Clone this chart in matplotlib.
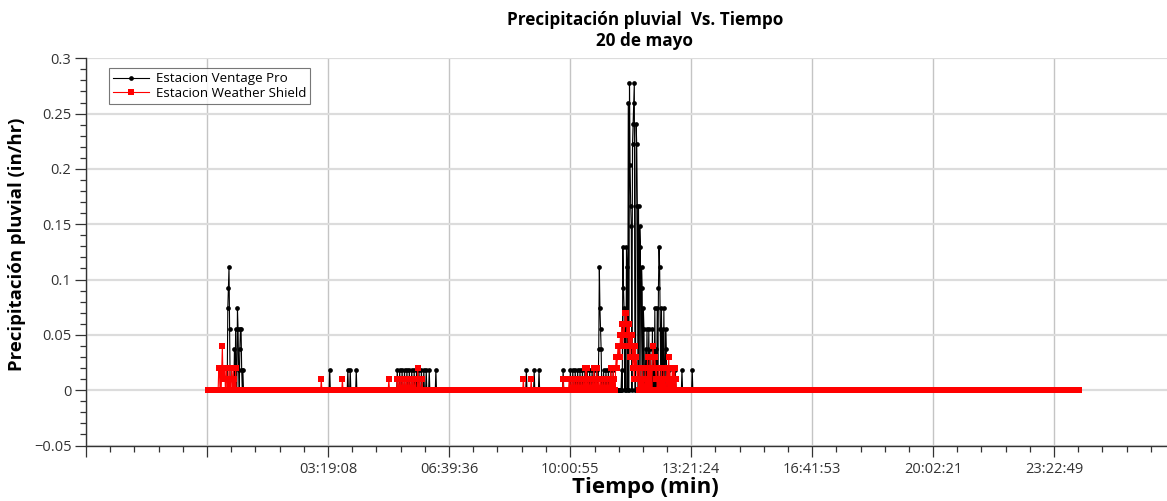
import numpy as np
import matplotlib
matplotlib.use("Agg")
import matplotlib.pyplot as plt
from matplotlib.ticker import FixedLocator, FixedFormatter, NullFormatter

# ---------------- data ----------------
title = "Precipitación pluvial  Vs. Tiempo\n20 de mayo"
xlabel = "Tiempo (min)"
ylabel = "Precipitación pluvial (in/hr)"
series_names = ["Estacion Ventage Pro", "Estacion Weather Shield"]

x_tick_labels = ["03:19:08", "06:39:36", "10:00:55", "13:21:24",
                 "16:41:53", "20:02:21", "23:22:49"]
y_ticks = [-0.05, 0, 0.05, 0.1, 0.15, 0.2, 0.25, 0.3]
y_tick_labels = ["\u22120.05", "0", "0.05", "0.1", "0.15", "0.2", "0.25", "0.3"]

# one reading per minute over the day; readings not listed are 0 in/hr
record_length_min = 1445

# Estacion Ventage Pro: minute of day, rain rate (in/hr)
vp_event_min = [33, 34, 35, 36, 44, 46, 49, 50, 51, 53, 54, 55, 56, 58,
                202, 232, 236, 246,
                314, 318, 322, 326, 330, 334, 338, 342, 346, 350, 354, 358, 362, 367, 378,
                528, 541, 549, 589,
                601, 605, 609, 613, 617, 621, 625, 629, 633, 637, 641, 645,
                648, 649, 650, 651, 652,
                656, 660, 664, 668, 672,
                686, 688, 689, 690, 692, 694, 695, 697, 699, 700, 701, 702,
                704, 705, 706, 707, 710, 711, 712, 714, 716, 717, 719, 720,
                722, 723, 726, 728, 731, 733, 737, 739, 741, 743, 745, 747,
                748, 749, 750, 752, 754, 756, 759, 760,
                764, 775, 786, 803]
vp_event_val = [0.0741, 0.0926, 0.1111, 0.0556, 0.037, 0.0556, 0.0741, 0.0556, 0.0185, 0.037, 0.0556, 0.0556, 0.0185, 0.0185,
                0.0185, 0.0185, 0.0185, 0.0185,
                0.0185, 0.0185, 0.0185, 0.0185, 0.0185, 0.0185, 0.0185, 0.0185, 0.0185, 0.0185, 0.0185, 0.0185, 0.0185, 0.0185, 0.0185,
                0.0185, 0.0185, 0.0185, 0.0185,
                0.0185, 0.0185, 0.0185, 0.0185, 0.0185, 0.0185, 0.0185, 0.0185, 0.0185, 0.0185, 0.0185, 0.0185,
                0.037, 0.1111, 0.0741, 0.0556, 0.037,
                0.0185, 0.0185, 0.0185, 0.0185, 0.0185,
                0.0185, 0.1296, 0.0926, 0.0741, 0.0556, 0.1296, 0.1111, 0.2593, 0.2778, 0.2037, 0.1667, 0.1481,
                0.2222, 0.2407, 0.2593, 0.2778, 0.2407, 0.2222, 0.1667, 0.1667, 0.1481, 0.1296, 0.1111, 0.0926,
                0.0741, 0.0556, 0.037, 0.0556, 0.0556, 0.037, 0.0556, 0.037, 0.0741, 0.037, 0.0741, 0.0926,
                0.1296, 0.1111, 0.0556, 0.0741, 0.0556, 0.0741, 0.0556, 0.037,
                0.0185, 0.0185, 0.0185, 0.0185]

# Estacion Weather Shield: minute of day, rain rate (in/hr)
ws_event_min = [18, 19, 21, 23, 24, 25, 26, 27, 28, 30, 31, 33, 35, 37, 39, 40, 42, 44, 46,
                188, 223, 300,
                314, 317, 320, 323, 326, 329, 332, 335, 338, 341, 344, 348, 351, 355,
                523, 536, 589,
                599, 602, 605, 608, 611, 614, 617, 620, 623, 626, 628, 631, 634, 637, 640,
                643, 645, 648, 651, 654, 657, 660, 663, 666, 668, 670, 672, 674, 676,
                677, 678, 679, 680, 681, 682, 683, 684, 685, 686, 687, 688, 689, 690,
                691, 692, 693, 694, 695, 696, 697, 698, 699, 700, 701, 702, 703, 704,
                705, 706, 707, 708, 709, 710, 711, 712, 713,
                716, 718, 720, 722, 725, 727, 729, 731, 733, 735,
                737, 738, 739, 740, 741, 742, 743, 744,
                746, 748, 750, 752, 754, 756, 758, 761, 762, 764, 766, 768, 770, 772, 774, 776]
ws_event_val = [0.02, 0.02, 0.02, 0.02, 0.04, 0.01, 0.02, 0.01, 0.02, 0.01, 0.02, 0.01, 0.02, 0.01, 0.02, 0.01, 0.02, 0.01, 0.02,
                0.01, 0.01, 0.01,
                0.01, 0.01, 0.01, 0.01, 0.01, 0.01, 0.01, 0.01, 0.01, 0.01, 0.01, 0.02, 0.01, 0.01,
                0.01, 0.01, 0.01,
                0.01, 0.01, 0.01, 0.01, 0.01, 0.01, 0.01, 0.01, 0.01, 0.02, 0.02, 0.01, 0.01, 0.01, 0.02,
                0.01, 0.02, 0.01, 0.01, 0.01, 0.01, 0.01, 0.01, 0.01, 0.02, 0.01, 0.02, 0.01, 0.02,
                0.03, 0.02, 0.03, 0.04, 0.03, 0.04, 0.03, 0.05, 0.04, 0.06, 0.05, 0.04, 0.06, 0.05,
                0.06, 0.07, 0.06, 0.07, 0.05, 0.06, 0.04, 0.06, 0.05, 0.03, 0.05, 0.04, 0.05, 0.02,
                0.04, 0.03, 0.01, 0.04, 0.02, 0.03, 0.02, 0.01, 0.02,
                0.02, 0.01, 0.02, 0.01, 0.02, 0.01, 0.03, 0.02, 0.03, 0.02,
                0.03, 0.04, 0.03, 0.02, 0.03, 0.02, 0.01, 0.02,
                0.01, 0.02, 0.01, 0.02, 0.01, 0.02, 0.01, 0.02, 0.02, 0.03, 0.02, 0.01, 0.02, 0.02, 0.02, 0.01]

# ---------------- build series ----------------
minutes = np.arange(record_length_min)
t_hours = minutes / 60.0
vp = np.zeros(record_length_min)
vp[np.array(vp_event_min)] = vp_event_val
ws = np.zeros(record_length_min)
ws[np.array(ws_event_min)] = ws_event_val


def hms_to_hours(s):
    h, m, sec = (int(v) for v in s.split(":"))
    return h + m / 60 + sec / 3600


labeled = [hms_to_hours(s) for s in x_tick_labels]
step = (labeled[-1] - labeled[0]) / (len(labeled) - 1)
major_pos = [labeled[0] - 2 * step, labeled[0] - step] + labeled + [labeled[-1] + step]
major_lab = ["", ""] + x_tick_labels + [""]
minor_pos = []
for a in major_pos[:-1]:
    for k in range(1, 5):
        minor_pos.append(a + k * step / 5)

# ---------------- figure ----------------
plt.rcParams['font.family'] = ['Open Sans', 'DejaVu Sans']
fig = plt.figure(figsize=(11.67, 5.01), dpi=100)
ax = fig.add_axes([86 / 1167, 1 - 445.5 / 501, 1118 / 1167, (445.5 - 58.3) / 501])

ax.plot(t_hours, vp, color='black', lw=0.8, marker='o', ms=3.4, mew=0,
        label=series_names[0], zorder=3)
ax.plot(t_hours, ws, color='red', lw=0.8, marker='s', ms=4.3, mew=0,
        label=series_names[1], zorder=4)

x_left = major_pos[0]
px_per_h = 121 / step
ax.set_xlim(x_left, x_left + 1118 / px_per_h)
ax.set_ylim(-0.05, 0.3)

ax.xaxis.set_major_locator(FixedLocator(major_pos))
ax.xaxis.set_major_formatter(FixedFormatter(major_lab))
ax.xaxis.set_minor_locator(FixedLocator(minor_pos))
ax.xaxis.set_minor_formatter(NullFormatter())
ax.yaxis.set_major_locator(FixedLocator(y_ticks))
ax.yaxis.set_major_formatter(FixedFormatter(y_tick_labels))
ax.yaxis.set_minor_locator(FixedLocator(np.round(np.arange(-0.05, 0.3001, 0.01), 3)))
ax.yaxis.set_minor_formatter(NullFormatter())

ax.tick_params(axis='both', which='major', direction='out', length=8, width=0.9,
               color='#333333', labelcolor='#333333', labelsize=10.5)
ax.tick_params(axis='both', which='minor', direction='out', length=4.5, width=0.9,
               color='#333333')
ax.tick_params(axis='x', which='major', pad=4)
ax.tick_params(axis='y', which='major', pad=2.5)

ax.grid(axis='x', which='major', color='#c4c4c4', lw=1.0, zorder=0)
ax.grid(axis='y', which='major', color='#dcdcdc', lw=1.6, zorder=0)
ax.set_axisbelow(True)

for s in ['top', 'right']:
    ax.spines[s].set_visible(False)
for s in ['left', 'bottom']:
    ax.spines[s].set_color('#333333')
    ax.spines[s].set_linewidth(1.0)

ax.set_title(title, fontweight='bold', fontsize=12.3, pad=9, linespacing=1.2)
ax.set_xlabel(xlabel, fontweight='bold', fontsize=16, labelpad=0)
ax.set_ylabel(ylabel, fontweight='bold', fontsize=13.3)
ax.yaxis.set_label_coords(-0.0535, 0.52)

leg = ax.legend(loc='upper left', bbox_to_anchor=(23 / 1118, 1 - 10 / 387.2),
                borderaxespad=0, fontsize=9.6, frameon=True, fancybox=False,
                handlelength=2.7, handletextpad=0.5, borderpad=0.3,
                labelspacing=0.1, markerscale=1.0)
leg.get_frame().set_edgecolor('#555555')
leg.get_frame().set_linewidth(0.8)

fig.savefig("out.png", dpi=100)
